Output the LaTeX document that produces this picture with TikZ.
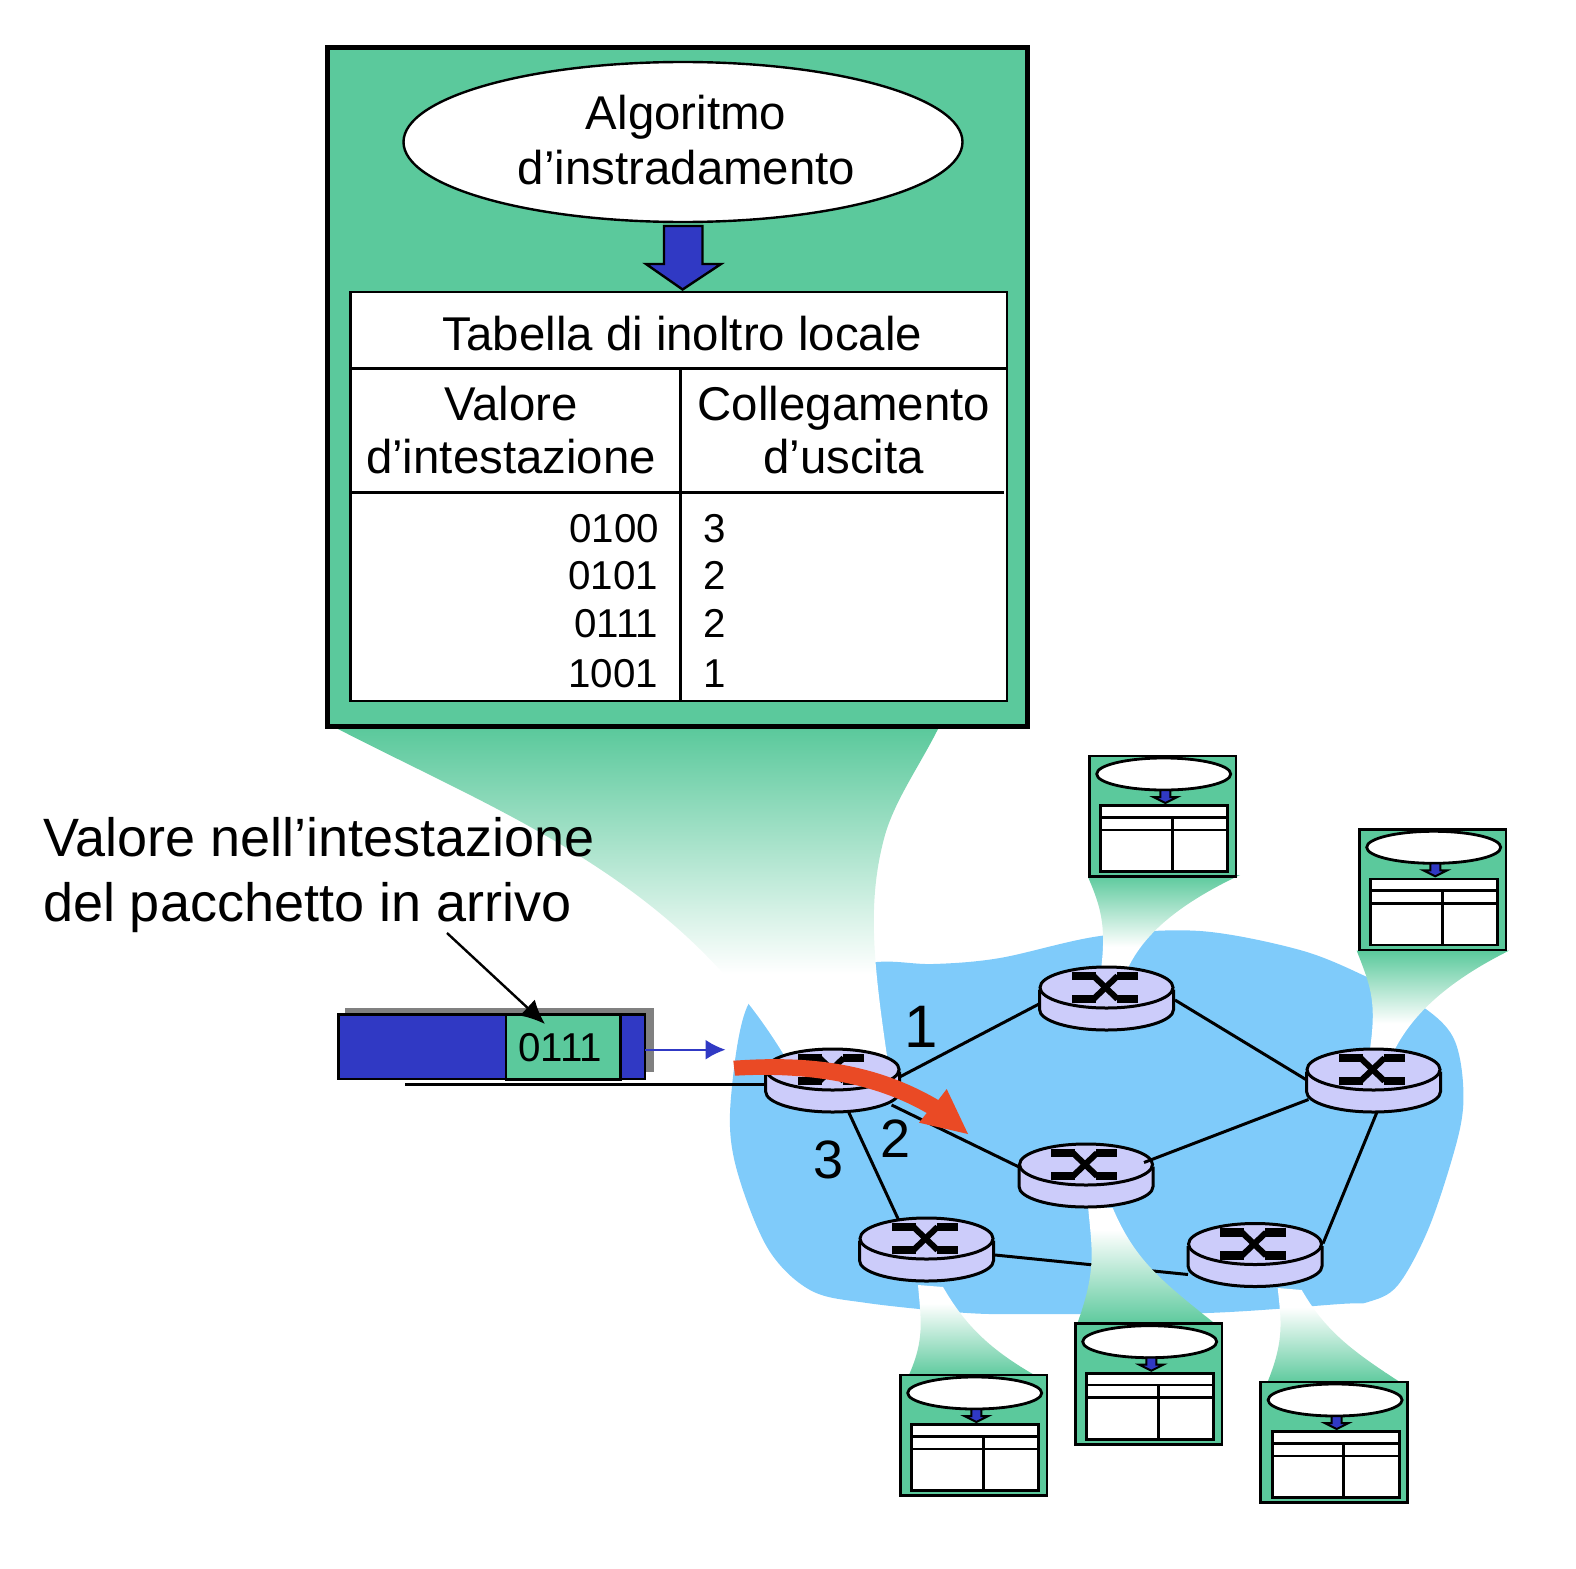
\documentclass[tikz,border=0pt]{standalone}
\usepackage{fontspec}
\setmainfont{Liberation Sans}
\usetikzlibrary{calc,shapes.geometric,arrows.meta}
\definecolor{grn}{HTML}{5BC99C}
\definecolor{cloud}{HTML}{7FCBFA}
\definecolor{rtr}{HTML}{CCCCFA}
\definecolor{blu}{HTML}{3039C4}
\definecolor{redarrow}{HTML}{EA4A25}
\definecolor{shadow}{HTML}{808080}
\pgfdeclareverticalshading{beamfade}{100bp}{color(0bp)=(white); color(38bp)=(white); color(75bp)=(grn); color(100bp)=(grn)}
\pgfdeclareverticalshading{beamfadeup}{100bp}{color(0bp)=(grn); color(25bp)=(grn); color(65bp)=(white); color(100bp)=(white)}
\tikzset{
  x=1pt,y=-1pt,
  lab/.style={inner sep=0pt,outer sep=0pt,anchor=base},
  big/.style={lab,align=center,font=\fontsize{47.4}{54}\selectfont},
  num/.style={lab,font=\fontsize{40.3}{46}\selectfont},
  numr/.style={num,anchor=base east},
  link/.style={line width=3pt,black},
  rtrbody/.style={line width=3pt,draw=black,fill=rtr},
  rtrtop/.style={shape=ellipse,draw=black,fill=rtr,line width=3pt,minimum width=133pt,minimum height=41pt,inner sep=0pt},
  beamdown/.style={shading=beamfade,shading angle=0},
  beamup/.style={shading=beamfadeup,shading angle=0},
  rule/.style={line width=2.4pt,black},
  panelline/.style={line width=2.8pt,black},
}
\newcommand{\routerpic}[3]{%
  \draw[rtrbody] (#2,#3) ++(-67,2) -- ++(0,20) arc[start angle=180,end angle=360,x radius=67pt,y radius=20.5pt] -- ++(0,-20);
  \node[rtrtop] (#1) at (#2,#3) {};
  \begin{scope}[shift={(#2,#3)}]
    \fill (-35,-15.7) rectangle (-11,-7.3);
    \fill (-35,7.3) rectangle (-11,15.5);
    \fill (10,-15.7) rectangle (31,-7.3);
    \fill (10,7.3) rectangle (31,15.5);
    \draw[line width=6pt] (-13,-11.5) -- (11,11.5);
    \draw[line width=6pt] (-13,11.5) -- (11,-11.5);
  \end{scope}}
\newcommand{\panelpic}[2]{%
  \begin{scope}[shift={(#1,#2)}]
    \draw[panelline,fill=grn] (0,0) rectangle (146.7,120.7);
    \draw[panelline,fill=white] (74.4,18) ellipse[x radius=67pt,y radius=16pt];
    \draw[line width=2pt,black,fill=blu] (71,34) -- (81,34) -- (81,41) -- (88,41) -- (76,47) -- (64,41) -- (71,41) -- cycle;
    \draw[panelline,fill=white] (11.4,49.7) rectangle (138.4,115.7);
    \draw[panelline] (11.4,61.3) -- (138.4,61.3);
    \draw[panelline] (11.4,74) -- (138.4,74);
    \draw[panelline] (83,61.3) -- (83,115.7);
  \end{scope}}
\begin{document}
\begin{tikzpicture}
\useasboundingbox (0,0) rectangle (1576,1568);
% cloud
\fill[cloud] plot[smooth cycle,tension=0.55] coordinates {
  (877,962) (933,964) (1000,958) (1100,936) (1200,931) (1300,950) (1367,977) (1423,1007) (1453,1037)
  (1463,1083) (1459,1133) (1430,1225) (1398,1285) (1368,1302) (1340,1304) (1207,1313) (1040,1314) (967,1313)
  (867,1303) (810,1290) (767,1247) (735,1163) (731,1097) (749,1003) (800,975)};
% router centres, used by the links drawn beneath the routers
\path (832.6,1069) coordinate (a) (1106,987) coordinate (b) (1086,1164) coordinate (c)
      (926,1238) coordinate (d) (1255,1243.5) coordinate (e) (1373,1069) coordinate (f);
\coordinate (inlet) at (405,1084.3);
% links
\draw[link] ($(a)+(67,8)$) -- ($(b)+(-67,17)$);
\draw[link] ($(a)+(59,36)$) -- ($(c)+(-67,3)$);
\draw[link] ($(a)+(16,43)$) -- ($(d)+(-26,-15)$);
\draw[link] ($(b)+(69,13)$) -- ($(f)+(-63,13)$);
\draw[link] ($(d)+(69,17)$) -- ($(e)+(-67,31)$);
\draw[link] ($(f)+(4,43)$) -- ($(e)+(68,0)$);
\draw[line width=2.4pt] (inlet) -- ($(a)+(-69,15.3)$);
% beams
\path[beamdown] (338,729) .. controls (503,814) and (680,880) .. (787,1060) -- (887,1056)
   .. controls (873,960) and (867,900) .. (885,835) .. controls (895,800) and (920,765) .. (938,729) -- cycle;
\path[beamdown] (1088,877) .. controls (1100,905) and (1107,925) .. (1100.7,972) -- (1127,970)
   .. controls (1143,935) and (1177,905) .. (1240,875) -- cycle;
\path[beamdown] (1356.7,950.7) .. controls (1370,985) and (1377,1000) .. (1370,1049) -- (1395,1049)
   .. controls (1410,1020) and (1440,985) .. (1509,950.7) -- cycle;
\path[beamup] (1088,1206) .. controls (1092,1250) and (1097,1270) .. (1076.7,1325) -- (1216.7,1325)
   .. controls (1160,1280) and (1135,1260) .. (1112.7,1208) -- cycle;
\path[beamup] (1277.7,1288) .. controls (1281,1320) and (1285,1340) .. (1266.7,1384) -- (1403,1384)
   .. controls (1350,1350) and (1325,1330) .. (1301.7,1290) -- cycle;
\path[beamup] (918,1285) .. controls (921,1320) and (925,1340) .. (908,1377) -- (1038,1377)
   .. controls (990,1350) and (965,1325) .. (943,1287) -- cycle;
% routers
\routerpic{ra}{832.6}{1069.5}
\routerpic{rb}{1106.5}{987.5}
\routerpic{rc}{1086}{1164.5}
\routerpic{rd}{926.5}{1238.5}
\routerpic{re}{1255}{1244}
\routerpic{rf}{1373.5}{1069.5}
\draw[link] ($(rc)+(58,-2)$) -- ($(rf)+(-65,30)$);
% small panels
\panelpic{1089.3}{756}
\panelpic{1359.3}{829.3}
\panelpic{1075.3}{1323.7}
\panelpic{1260.7}{1382}
\panelpic{900.3}{1375}
% main panel
\draw[line width=5pt,black,fill=grn] (327,47.5) rectangle (1027.5,726.5);
\node[shape=ellipse,draw=black,fill=white,line width=2.4pt,minimum width=559pt,minimum height=160pt,inner sep=0pt] (algo) at (683,142) {};
\draw[line width=2.4pt,black,fill=blu] (664,226) -- (702.5,226) -- (702.5,264) -- (721,264) -- (682.6,289.5) -- (646,264) -- (664,264) -- cycle;
\draw[rule,fill=white] (350.6,292) rectangle (1006.7,701);
\draw[rule] (350.6,368.3) -- (1006.7,368.3);
\draw[rule] (350.6,492.3) -- (1004,492.3);
\draw[rule] (680.5,368.3) -- (680.5,701);
\node[big] (t1) at (686,130) {Algoritmo};
\node[big] (t2) at (686.5,184) {d’instradamento};
\node[big] (t3) at (682.5,350) {Tabella di inoltro locale};
\node[big] (t4) at (511,420) {Valore};
\node[big] (t5) at (511,473.5) {d’intestazione};
\node[big] (t6) at (844,420) {Collegamento};
\node[big] (t7) at (843.5,473.5) {d’uscita};
\node[numr] (n1) at (659,542) {0100};
\node[numr] (n2) at (658,589.5) {0101};
\node[numr] (n3) at (658,637) {0111};
\node[numr] (n4) at (658,687) {1001};
\node[num] (m1) at (714.5,542) {3};
\node[num] (m2) at (714.5,589.5) {2};
\node[num] (m3) at (714.5,637) {2};
\node[num] (m4) at (714.5,687) {1};
% header label
\node[lab,anchor=base west,font=\fontsize{54}{64}\selectfont] (hv1) at (43,856.5) {Valore nell’intestazione};
\node[lab,anchor=base west,font=\fontsize{54}{64}\selectfont] (hv2) at (43,921) {del pacchetto in arrivo};
% packet
\fill[shadow] (345,1008) rectangle (654,1072);
\draw[line width=2.4pt,black,fill=blu] (338.3,1014.3) rectangle (645,1078.7);
\node[draw=black,fill=grn,line width=2.4pt,minimum width=114.7pt,minimum height=64.3pt,inner sep=0pt] (pk) at (563.3,1047.2) {};
\node[num,anchor=base] (pkt) at (560,1061) {0111};
\coordinate (pktail) at (447,933);
\draw[line width=2.4pt,-{Latex[length=24pt,width=22pt]}] (pktail) -- (545,1024);
\draw[line width=2pt,blu,-{Latex[length=20pt,width=20pt]}] (645,1049.7) -- (725.5,1049.7);
% red arrow
\fill[redarrow] (733.3,1060.7) .. controls (800,1056) and (870,1060) .. (938.3,1100) -- (946.7,1089) -- (968,1134) -- (919,1122.7) -- (926.7,1113) .. controls (870,1080) and (800,1072) .. (735,1075.7) -- cycle;
% port numbers
\node[lab,font=\fontsize{60}{70}\selectfont] (p1) at (921,1047) {1};
\node[lab,font=\fontsize{54}{64}\selectfont] (p2) at (895.5,1157.7) {2};
\node[lab,font=\fontsize{54}{64}\selectfont] (p3) at (828.5,1178) {3};
\end{tikzpicture}
\end{document}
